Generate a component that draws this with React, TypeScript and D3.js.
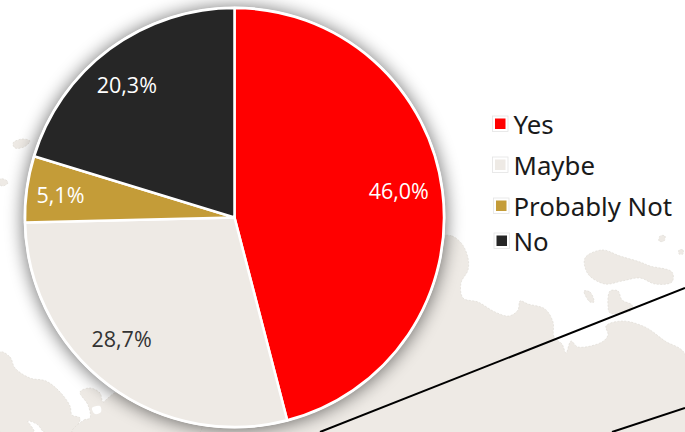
import React from "react";
import * as d3 from "d3";

const categories = ["Yes", "Maybe", "Probably Not", "No"];
const shares = [46.0, 28.7, 5.1, 20.3];
const shareLabels = ["46,0%", "28,7%", "5,1%", "20,3%"];
const sliceColors = ["#ff0000", "#eeeae5", "#c49c38", "#262626"];
const labelColors = ["#ffffff", "#333333", "#ffffff", "#ffffff"];

// Pale landmasses of the backdrop map
const mainland: [number, number][] = [
  [440, 236], [452, 236], [462, 244], [468, 258], [468, 270], [461, 283], [463, 298], [478, 302], [495, 312],
  [509, 316], [518, 310], [520, 301], [528, 304], [545, 309], [553, 322], [554, 337], [562, 344], [566, 353],
  [571, 341], [578, 347], [602, 342], [608, 335], [606, 326], [622, 321], [645, 327], [665, 341], [685, 354],
  [685, 432], [170, 432], [235, 300],
];
const westCoast: [number, number][] = [
  [0, 352], [10, 357], [15, 368], [30, 378], [46, 381], [60, 392], [70, 406], [72, 415], [80, 418], [72, 432],
  [44, 432], [38, 425], [28, 421], [34, 432], [0, 432],
];
const southShore: [number, number][] = [
  [72, 432], [84, 420], [90, 418], [88, 405], [80, 392], [90, 388], [100, 393], [103, 402], [108, 398], [118, 392],
  [200, 420], [200, 432],
];
const islands: [number, number][][] = [
  [[585, 258], [602, 250], [620, 256], [640, 262], [650, 266], [672, 272], [672, 282], [655, 284], [640, 278], [622, 281], [605, 284], [588, 274]],
  [[584, 291], [590, 292], [594, 302], [590, 302]],
  [[610, 291], [618, 291], [622, 300], [632, 305], [632, 310], [610, 313], [608, 306]],
  [[660, 236], [665, 236], [664, 241], [659, 241]],
  [[679, 250], [683, 250], [683, 254], [679, 254]],
  [[13, 143], [22, 139], [30, 141], [24, 147], [15, 148]],
  [[0, 179], [6, 180], [8, 183], [3, 186], [0, 185]],
];
const lakes: [number, number][][] = [
  [[92, 408], [100, 406], [101, 412], [95, 414]],
];

// Straight black border lines crossing the map
const borderLines: [number, number][][] = [
  [[320, 432], [685, 288]],
  [[612, 432], [685, 408]],
];

const WIDTH = 685;
const HEIGHT = 432;
const CX = 234.5;
const CY = 217.5;
const RADIUS = 209.5;

const arcs = d3.pie<number>().sort(null).value((d) => d)(shares);
const sliceArc = d3.arc<d3.PieArcDatum<number>>().innerRadius(0).outerRadius(RADIUS);
const labelArc = d3.arc<d3.PieArcDatum<number>>().innerRadius(RADIUS * 0.8).outerRadius(RADIUS * 0.8);
const closedLine = d3.line().curve(d3.curveCatmullRomClosed.alpha(0.5));
const openLine = d3.line();

// The renderer keeps each label inside its slice, so labels sit a little off the centroid
const labelShift: [number, number][] = [
  [-2, -6],
  [-12, -13],
  [-8, 0],
  [-8, 2],
];
const legendY = [124, 165, 206, 241];
const legendX = [0, 0, 1, 1.5];

export default function App() {
  return (
    <svg
      width={WIDTH}
      height={HEIGHT}
      viewBox={`0 0 ${WIDTH} ${HEIGHT}`}
      style={{ position: "absolute", left: 0, top: 0, background: "#ffffff" }}
    >
      <defs>
        <filter id="pieShadow" x="-20%" y="-20%" width="140%" height="140%">
          <feGaussianBlur stdDeviation="9" />
        </filter>
      </defs>
      <g fill="#eeeae5" stroke="#dcd8d2" strokeWidth={0.6} strokeDasharray="2 1.5">
        {[mainland, westCoast, southShore, ...islands].map((shape, i) => (
          <path key={i} d={closedLine(shape) ?? ""} />
        ))}
      </g>
      <g fill="#ffffff">
        {lakes.map((shape, i) => (
          <path key={i} d={closedLine(shape) ?? ""} />
        ))}
      </g>
      <g fill="none" stroke="#000000" strokeWidth={2}>
        {borderLines.map((l, i) => (
          <path key={i} d={openLine(l) ?? ""} />
        ))}
      </g>
      <circle cx={CX} cy={CY + 1} r={RADIUS + 2} fill="#000000" opacity={0.55} filter="url(#pieShadow)" />
      <g transform={`translate(${CX},${CY})`}>
        <circle r={RADIUS + 1.5} fill="#ffffff" />
        {arcs.map((a, i) => (
          <path key={categories[i]} d={sliceArc(a) ?? ""} fill={sliceColors[i]} stroke="#ffffff" strokeWidth={2.5} strokeLinejoin="round" />
        ))}
        {arcs.map((a, i) => {
          const [x, y] = labelArc.centroid(a);
          return (
            <text
              key={categories[i]}
              x={x + labelShift[i][0]}
              y={y + labelShift[i][1]}
              textAnchor="middle"
              dominantBaseline="central"
              fontFamily="'Open Sans', sans-serif"
              fontSize={21.5}
              fill={labelColors[i]}
            >
              {shareLabels[i]}
            </text>
          );
        })}
      </g>
      {categories.map((c, i) => {
        const y = legendY[i];
        const dx = legendX[i];
        return (
          <g key={c}>
            <rect x={492.5 + dx} y={y - 8} width={15.5} height={15.5} fill="#ffffff" stroke="#e4e4e4" strokeWidth={0.8} />
            <rect x={495 + dx} y={y - 5.5} width={10.5} height={10.5} fill={sliceColors[i]} />
            <text x={513.5} y={y - 0.5} dominantBaseline="central" fontFamily="'Noto Sans', sans-serif" fontSize={25.8} fill="#1a1a1a">
              {c}
            </text>
          </g>
        );
      })}
    </svg>
  );
}
